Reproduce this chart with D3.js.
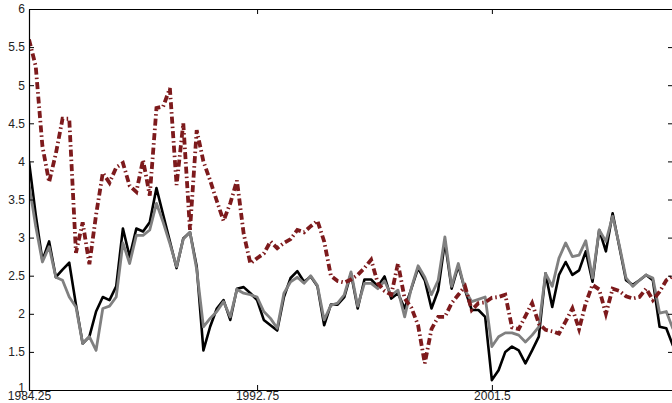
<!DOCTYPE html>
<html>
<head>
<meta charset="utf-8">
<script src="https://cdn.jsdelivr.net/npm/d3@7"></script>
<style>
  body { margin: 0; background: #fff; }
  svg { display: block; }
  .tick text { font-family: "Liberation Sans", Arial, sans-serif; font-size: 12px; fill: #222; }
</style>
</head>
<body>
<div id="chart"></div>
<script>
// quarterly observations, starting 1984.25
const startYear = 1984.25
const seriesBlack = [4.0, 3.3, 2.7, 2.95, 2.48, 2.58, 2.67, 2.12, 1.61, 1.70,
  2.03, 2.22, 2.18, 2.36, 3.12, 2.75, 3.12, 3.08, 3.2, 3.65,
  3.3, 2.95, 2.6, 2.99, 3.07, 2.62, 1.52, 1.83, 2.07, 2.18,
  1.92, 2.33, 2.35, 2.27, 2.18, 1.92, 1.85, 1.78, 2.22, 2.47,
  2.56, 2.42, 2.49, 2.36, 1.85, 2.12, 2.12, 2.22, 2.53, 2.07,
  2.45, 2.45, 2.36, 2.49, 2.20, 2.27, 2.07, 2.33, 2.60, 2.44,
  2.07, 2.31, 2.95, 2.33, 2.63, 2.31, 2.05, 2.05, 1.96, 1.13,
  1.26, 1.50, 1.57, 1.52, 1.35, 1.52, 1.70, 2.53, 2.09, 2.51,
  2.68, 2.51, 2.57, 2.82, 2.42, 3.10, 2.82, 3.32, 2.88, 2.44,
  2.38, 2.44, 2.51, 2.44, 1.83, 1.81, 1.58]
const seriesGray = [3.7, 3.15, 2.68, 2.88, 2.48, 2.44, 2.22, 2.09, 1.61, 1.70,
  1.52, 2.07, 2.10, 2.22, 2.93, 2.66, 3.03, 3.03, 3.1, 3.45,
  3.2, 2.92, 2.62, 2.98, 3.07, 2.58, 1.83, 1.94, 2.03, 2.16,
  1.96, 2.32, 2.27, 2.25, 2.22, 2.03, 1.94, 1.81, 2.27, 2.42,
  2.48, 2.40, 2.50, 2.37, 1.92, 2.11, 2.14, 2.25, 2.55, 2.10,
  2.40, 2.40, 2.33, 2.43, 2.24, 2.31, 1.96, 2.34, 2.63, 2.48,
  2.25, 2.44, 3.01, 2.36, 2.66, 2.31, 2.16, 2.19, 2.22, 1.57,
  1.70, 1.75, 1.75, 1.72, 1.63, 1.72, 1.83, 2.53, 2.36, 2.73,
  2.93, 2.75, 2.77, 2.96, 2.47, 3.10, 2.95, 3.28, 2.90, 2.47,
  2.36, 2.44, 2.51, 2.47, 2.01, 2.03, 1.80]
const seriesRed = [5.6, 5.25, 4.2, 3.73, 4.1, 4.56, 4.56, 2.8, 3.2, 2.65,
  3.3, 3.85, 3.72, 3.92, 3.98, 3.68, 3.6, 4.02, 3.55, 4.70,
  4.72, 4.96, 3.69, 4.5, 3.1, 4.41, 4.0, 3.75, 3.48, 3.22,
  3.45, 3.75, 3.05, 2.66, 2.73, 2.79, 2.95, 2.86, 2.93, 2.98,
  3.1, 3.07, 3.15, 3.22, 2.95, 2.5, 2.43, 2.41, 2.45, 2.51,
  2.6, 2.71, 2.40, 2.3, 2.25, 2.66, 2.2, 2.08, 1.85, 1.35,
  1.8, 1.96, 1.96, 2.14, 2.25, 2.36, 2.05, 2.14, 2.15, 2.21,
  2.22, 2.25, 1.82, 1.80, 1.97, 2.14, 1.87, 1.79, 1.77, 1.74,
  1.9, 2.07, 1.80, 2.14, 2.38, 2.32, 2.0, 2.33, 2.3, 2.23,
  2.2, 2.22, 2.33, 2.18, 2.29, 2.44, 2.5]
const xTicks = [1984.25, 1992.75, 2001.5]
const xTickLabels = ['1984.25', '1992.75', '2001.5']
const yTicks = [1, 1.5, 2, 2.5, 3, 3.5, 4, 4.5, 5, 5.5, 6]

const width = 672
const height = 403
const margin = { top: 9, right: -1, bottom: 13, left: 29 }

const quarters = seriesBlack.map((d, i) => startYear + i * 0.25)

const svg = d3.select('#chart')
  .append('svg')
  .attr('width', width)
  .attr('height', height)

const x = d3.scaleLinear()
  .domain([1984.25, 2008.25])
  .range([margin.left, width - margin.right])

const y = d3.scaleLinear()
  .domain([1, 6])
  .range([height - margin.bottom, margin.top])

svg.append('clipPath').attr('id', 'clip')
  .append('rect')
  .attr('x', margin.left)
  .attr('y', margin.top)
  .attr('width', width - margin.right - margin.left)
  .attr('height', height - margin.bottom - margin.top)

const line = d3.line()
  .x((d, i) => x(quarters[i]))
  .y(d => y(d))

const plot = svg.append('g').attr('clip-path', 'url(#clip)')

plot.append('path')
  .datum(seriesBlack)
  .attr('fill', 'none')
  .attr('stroke', '#000')
  .attr('stroke-width', 2.6)
  .attr('stroke-linejoin', 'round')
  .attr('d', line)

plot.append('path')
  .datum(seriesGray)
  .attr('fill', 'none')
  .attr('stroke', '#808080')
  .attr('stroke-width', 2.8)
  .attr('stroke-linejoin', 'round')
  .attr('d', line)

plot.append('path')
  .datum(seriesRed)
  .attr('fill', 'none')
  .attr('stroke', '#7d1a1c')
  .attr('stroke-width', 3.8)
  .attr('stroke-dasharray', '7,3,1.5,3')
  .attr('d', line)

// axes, ticks pointing inward
const yLeft = d3.axisLeft(y).tickValues(yTicks).tickFormat(d3.format('')).tickSizeInner(-5).tickSizeOuter(0).tickPadding(4)
const yRight = d3.axisRight(y).tickValues(yTicks).tickFormat('').tickSizeInner(-5).tickSizeOuter(0)
const xBottom = d3.axisBottom(x).tickValues(xTicks).tickFormat((d, i) => xTickLabels[i]).tickSizeInner(-5).tickSizeOuter(0).tickPadding(1)
const xTop = d3.axisTop(x).tickValues(xTicks).tickFormat('').tickSizeInner(-5).tickSizeOuter(0)

const gLeft = svg.append('g').attr('transform', `translate(${margin.left},0)`).call(yLeft)
svg.append('g').attr('transform', `translate(${width - margin.right},0)`).call(yRight)
svg.append('g').attr('transform', `translate(0,${height - margin.bottom})`).call(xBottom)
svg.append('g').attr('transform', `translate(0,${margin.top})`).call(xTop)

// bottom y label sits a little higher so it clears the first year label
gLeft.selectAll('.tick text').filter(d => d === 1).attr('dy', '0.1em')

svg.selectAll('.domain').attr('stroke', '#000').attr('stroke-width', 1.2)
svg.selectAll('.tick line').attr('stroke', '#000')
</script>
</body>
</html>
